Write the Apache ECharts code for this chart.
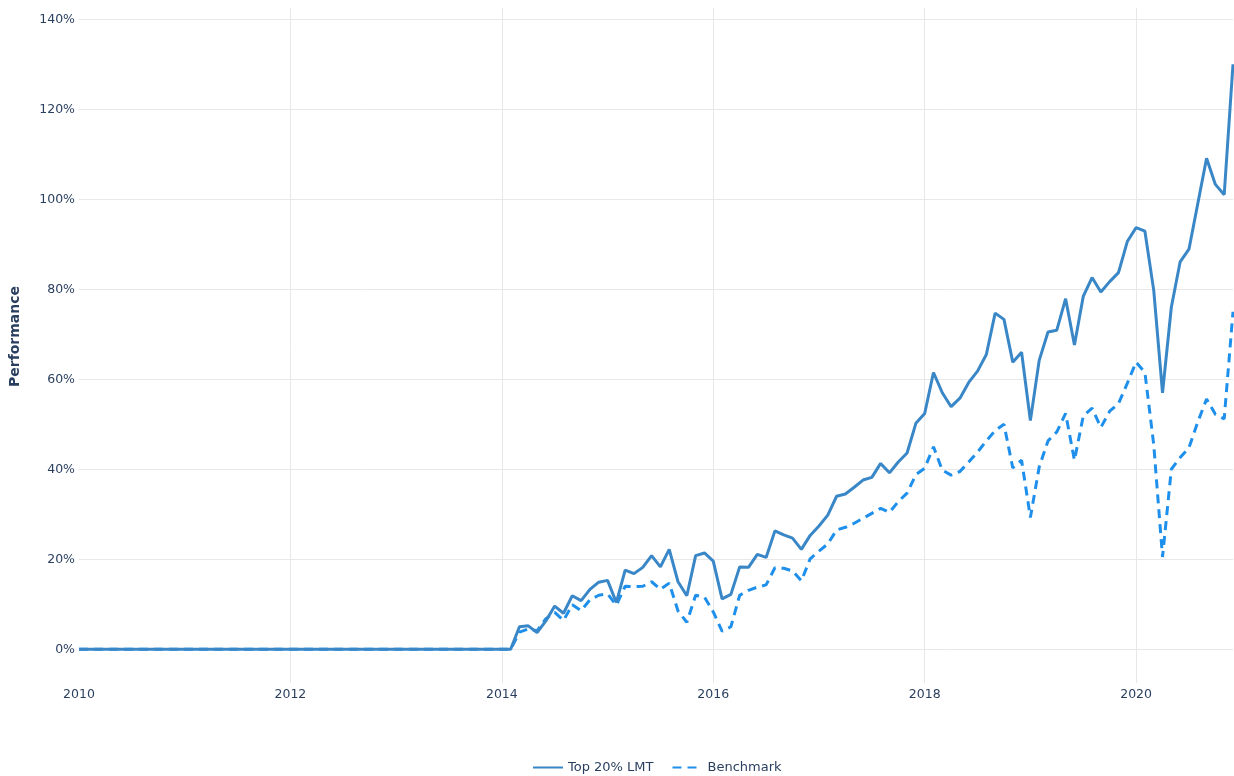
<!DOCTYPE html>
<html>
<head>
<meta charset="UTF-8">
<title>Performance</title>
<style>
    * { margin: 0; padding: 0; box-sizing: border-box; }
    html, body { width: 100%; height: 100%; background: #fff; }
    #chart { width: 1234px; height: 776px; }
</style>
</head>
<body>
<div id="chart"></div>
<script src="https://cdn.jsdelivr.net/npm/echarts@6/dist/echarts.min.js"></script>
<script>
// monthly observations, 2010-01 .. 2020-12
var months = [
    '2010-01','2010-02','2010-03','2010-04','2010-05','2010-06','2010-07','2010-08','2010-09','2010-10','2010-11','2010-12',
    '2011-01','2011-02','2011-03','2011-04','2011-05','2011-06','2011-07','2011-08','2011-09','2011-10','2011-11','2011-12',
    '2012-01','2012-02','2012-03','2012-04','2012-05','2012-06','2012-07','2012-08','2012-09','2012-10','2012-11','2012-12',
    '2013-01','2013-02','2013-03','2013-04','2013-05','2013-06','2013-07','2013-08','2013-09','2013-10','2013-11','2013-12',
    '2014-01','2014-02','2014-03','2014-04','2014-05','2014-06','2014-07','2014-08','2014-09','2014-10','2014-11','2014-12',
    '2015-01','2015-02','2015-03','2015-04','2015-05','2015-06','2015-07','2015-08','2015-09','2015-10','2015-11','2015-12',
    '2016-01','2016-02','2016-03','2016-04','2016-05','2016-06','2016-07','2016-08','2016-09','2016-10','2016-11','2016-12',
    '2017-01','2017-02','2017-03','2017-04','2017-05','2017-06','2017-07','2017-08','2017-09','2017-10','2017-11','2017-12',
    '2018-01','2018-02','2018-03','2018-04','2018-05','2018-06','2018-07','2018-08','2018-09','2018-10','2018-11','2018-12',
    '2019-01','2019-02','2019-03','2019-04','2019-05','2019-06','2019-07','2019-08','2019-09','2019-10','2019-11','2019-12',
    '2020-01','2020-02','2020-03','2020-04','2020-05','2020-06','2020-07','2020-08','2020-09','2020-10','2020-11','2020-12'
];

// performance in %
var top20 = [
    0, 0, 0, 0, 0, 0, 0, 0, 0, 0, 0, 0,
    0, 0, 0, 0, 0, 0, 0, 0, 0, 0, 0, 0,
    0, 0, 0, 0, 0, 0, 0, 0, 0, 0, 0, 0,
    0, 0, 0, 0, 0, 0, 0, 0, 0, 0, 0, 0,
    0, 0, 5.0, 5.2, 3.7, 6.3, 9.6, 8.0, 11.9, 10.8, 13.3, 14.9,
    15.3, 10.4, 17.6, 16.8, 18.2, 20.8, 18.3, 22.2, 15.0, 11.9, 20.8, 21.4,
    19.6, 11.2, 12.2, 18.3, 18.2, 21.1, 20.4, 26.3, 25.4, 24.7, 22.2, 25.3,
    27.4, 29.8, 34.0, 34.5, 36.0, 37.6, 38.2, 41.3, 39.2, 41.6, 43.6, 50.2,
    52.4, 61.5, 57.0, 53.9, 55.8, 59.3, 61.8, 65.5, 74.7, 73.3, 63.8, 66.0,
    50.8, 64.2, 70.5, 70.9, 77.9, 67.6, 78.4, 82.6, 79.4, 81.7, 83.7, 90.6,
    93.7, 92.9, 79.8, 57.0, 76.0, 86.1, 88.9, 99.0, 109.1, 103.3, 101.0, 130.0
];

var benchmark = [
    0, 0, 0, 0, 0, 0, 0, 0, 0, 0, 0, 0,
    0, 0, 0, 0, 0, 0, 0, 0, 0, 0, 0, 0,
    0, 0, 0, 0, 0, 0, 0, 0, 0, 0, 0, 0,
    0, 0, 0, 0, 0, 0, 0, 0, 0, 0, 0, 0,
    0, 0, 3.8, 4.5, 4.1, 6.8, 8.2, 6.4, 9.9, 8.6, 11.0, 12.0,
    12.3, 9.8, 14.0, 13.9, 14.0, 15.0, 13.3, 14.7, 8.5, 6.0, 12.0, 11.6,
    8.3, 4.0, 5.0, 12.0, 13.1, 13.8, 14.3, 18.1, 18.0, 17.4, 15.2, 20.1,
    21.8, 23.4, 26.5, 27.1, 28.0, 29.1, 30.2, 31.3, 30.4, 32.8, 34.7, 38.8,
    40.2, 45.0, 39.8, 38.7, 39.5, 41.6, 43.8, 46.3, 48.6, 50.0, 40.3, 42.0,
    29.3, 40.5, 46.3, 48.3, 52.4, 42.0, 51.8, 53.6, 49.3, 52.9, 54.6, 59.1,
    63.8, 61.5, 45.5, 20.5, 40.0, 42.6, 44.8, 50.5, 55.6, 52.2, 51.2, 75.0
];

var seriesNames = ['Top 20% LMT', 'Benchmark'];

// 'YYYY-MM' -> fractional year
function toYear(s) {
    var p = s.split('-');
    return parseInt(p[0], 10) + (parseInt(p[1], 10) - 1) / 12;
}
function pairs(values) {
    return months.map(function (m, i) { return [toYear(m), values[i]]; });
}

var textColor = '#2a3f5f';
var gridColor = '#e8e8e8';
var font = 'Verdana, "DejaVu Sans", sans-serif';

var chart = echarts.init(document.getElementById('chart'));
chart.setOption({
    animation: false,
    grid: { left: 75, right: 1, top: 8, bottom: 93, containLabel: false },
    legend: {
        data: seriesNames,
        top: 756,
        left: 527,
        itemWidth: 30,
        itemHeight: 12,
        itemGap: 18,
        itemStyle: { opacity: 0 },
        textStyle: { color: textColor, fontSize: 13, fontFamily: font }
    },
    xAxis: {
        type: 'value',
        min: 2010,
        max: toYear(months[months.length - 1]),
        interval: 2,
        axisLine: { show: false },
        axisTick: { show: false },
        axisLabel: {
            color: textColor,
            fontSize: 12.5,
            fontFamily: font,
            margin: 5,
            showMaxLabel: false,
            formatter: function (v) { return String(v); }
        },
        splitLine: { show: true, showMinLine: false, showMaxLine: false, lineStyle: { color: gridColor, width: 1 } }
    },
    yAxis: {
        type: 'value',
        min: -7.5,
        max: 142.5,
        minInterval: 20,
        maxInterval: 20,
        name: 'Performance',
        nameLocation: 'middle',
        nameGap: 57,
        nameTextStyle: { color: textColor, fontSize: 14, fontWeight: 'bold', fontFamily: font, padding: [0, 0, 0, 18] },
        axisLine: { show: false },
        axisTick: { show: false },
        axisLabel: {
            color: textColor,
            fontSize: 12.5,
            fontFamily: font,
            margin: 4,
            showMinLabel: false,
            showMaxLabel: false,
            formatter: function (v) { return v + '%'; }
        },
        splitLine: { show: true, showMinLine: false, showMaxLine: false, lineStyle: { color: gridColor, width: 1 } }
    },
    series: [
        {
            name: seriesNames[0],
            type: 'line',
            data: pairs(top20),
            symbol: 'none',
            z: 3,
            lineStyle: { color: '#3a87c7', width: 3 },
            itemStyle: { color: '#3a87c7' }
        },
        {
            name: seriesNames[1],
            type: 'line',
            data: pairs(benchmark),
            symbol: 'none',
            z: 2,
            lineStyle: { color: '#1e90ec', width: 3, type: [9, 6] },
            itemStyle: { color: '#1e90ec' }
        }
    ]
});
</script>
</body>
</html>
